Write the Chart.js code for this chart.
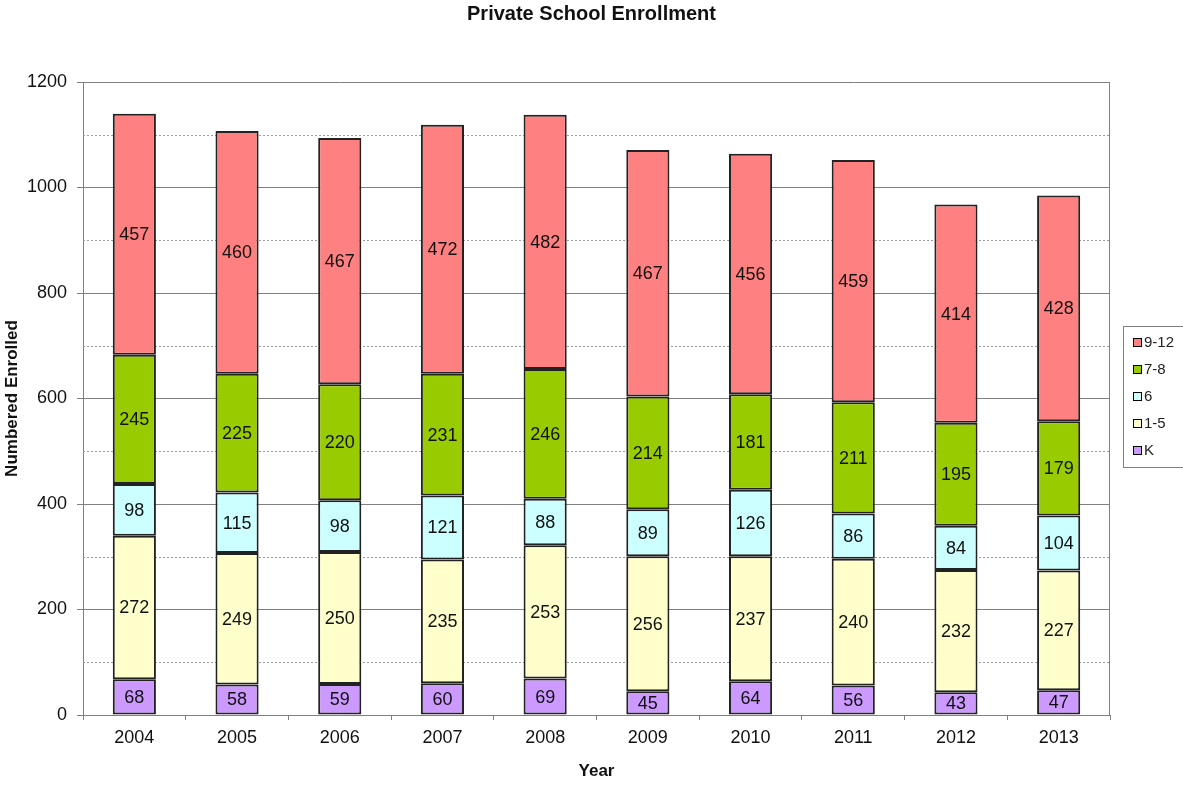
<!DOCTYPE html>
<html lang="en">
<head>
  <meta charset="UTF-8">
  <title>Private School Enrollment</title>
  <script src="https://cdn.jsdelivr.net/npm/chart.js"></script>
  <style>
    body { margin: 0; background: #fff; }
    .wrap { width: 1183px; height: 786px; position: relative; }
  </style>
</head>
<body>
  <div class="wrap"><canvas id="enrollChart"></canvas></div>

  <script>
    const years = ['2004', '2005', '2006', '2007', '2008', '2009', '2010', '2011', '2012', '2013'];
    const gradeK = [68, 58, 59, 60, 69, 45, 64, 56, 43, 47];
    const grade1to5 = [272, 249, 250, 235, 253, 256, 237, 240, 232, 227];
    const grade6 = [98, 115, 98, 121, 88, 89, 126, 86, 84, 104];
    const grade7to8 = [245, 225, 220, 231, 246, 214, 181, 211, 195, 179];
    const grade9to12 = [457, 460, 467, 472, 482, 467, 456, 459, 414, 428];
    const dashedLevels = [100, 300, 500, 700, 900, 1100];

    const FONT = "'Liberation Sans', Arial, sans-serif";

    // dotted grid lines at the odd hundreds + right frame of the plot
    const minorGrid = {
      id: 'minorGrid',
      beforeDatasetsDraw(chart) {
        const { ctx, chartArea } = chart;
        const y = chart.scales.y;
        ctx.save();
        ctx.strokeStyle = '#9a9a9a';
        ctx.lineWidth = 1;
        ctx.setLineDash([2, 2]);
        dashedLevels.forEach(v => {
          const py = Math.round(y.getPixelForValue(v)) + 0.5;
          ctx.beginPath();
          ctx.moveTo(chartArea.left, py);
          ctx.lineTo(chartArea.right, py);
          ctx.stroke();
        });
        ctx.setLineDash([]);
        ctx.strokeStyle = '#808080';
        ctx.beginPath();
        ctx.moveTo(Math.round(chartArea.right) - 0.5, chartArea.top);
        ctx.lineTo(Math.round(chartArea.right) - 0.5, chartArea.bottom);
        ctx.stroke();
        ctx.restore();
      }
    };

    // numbers in the middle of each segment
    const segmentLabels = {
      id: 'segmentLabels',
      afterDatasetsDraw(chart) {
        const { ctx } = chart;
        ctx.save();
        ctx.font = '18px ' + FONT;
        ctx.fillStyle = '#111';
        ctx.textAlign = 'center';
        ctx.textBaseline = 'middle';
        chart.data.datasets.forEach((ds, i) => {
          chart.getDatasetMeta(i).data.forEach((bar, j) => {
            ctx.fillText(ds.data[j], bar.x, (bar.y + bar.base) / 2 + 1);
          });
        });
        ctx.restore();
      }
    };

    // boxed legend on the right, top item = top of stack
    const boxLegend = {
      id: 'boxLegend',
      afterDraw(chart) {
        const { ctx } = chart;
        const items = chart.data.datasets.slice().reverse();
        ctx.save();
        ctx.strokeStyle = '#808080';
        ctx.lineWidth = 1;
        ctx.strokeRect(1123.5, 326.5, 70, 141);
        ctx.font = '15px ' + FONT;
        ctx.textBaseline = 'middle';
        items.forEach((ds, i) => {
          const cy = 342 + i * 27;
          ctx.fillStyle = ds.backgroundColor;
          ctx.fillRect(1133, cy - 4, 8, 8);
          ctx.strokeStyle = '#000';
          ctx.strokeRect(1133.5, cy - 3.5, 8, 8);
          ctx.fillStyle = '#222';
          ctx.fillText(ds.label, 1144, cy + 1);
        });
        ctx.restore();
      }
    };

    function bar(label, data, color) {
      return {
        label, data,
        backgroundColor: color,
        borderColor: '#222',
        borderWidth: 2,
        borderSkipped: false,
        categoryPercentage: 1,
        barPercentage: 0.42
      };
    }

    new Chart(document.getElementById('enrollChart'), {
      type: 'bar',
      data: {
        labels: years,
        datasets: [
          bar('K', gradeK, '#cc99ff'),
          bar('1-5', grade1to5, '#ffffcc'),
          bar('6', grade6, '#ccffff'),
          bar('7-8', grade7to8, '#99cc00'),
          bar('9-12', grade9to12, '#ff8080')
        ]
      },
      options: {
        responsive: true,
        maintainAspectRatio: false,
        animation: false,
        layout: { padding: 0 },
        plugins: {
          legend: { display: false },
          tooltip: { enabled: false },
          title: {
            display: true,
            text: 'Private School Enrollment',
            color: '#111',
            font: { family: FONT, size: 20, weight: 'bold' },
            padding: { top: 2, bottom: 56 }
          }
        },
        scales: {
          x: {
            stacked: true,
            offset: true,
            grid: { display: true, drawOnChartArea: false, drawTicks: true, tickLength: 5, color: '#808080', offset: true },
            border: { color: '#808080' },
            ticks: { color: '#111', padding: 7, font: { family: FONT, size: 18 } },
            title: { display: true, text: 'Year', color: '#111', font: { family: FONT, size: 17, weight: 'bold' }, padding: { top: 0, bottom: 4 } },
            afterFit(scale) { scale.height = 71; }
          },
          y: {
            stacked: true,
            min: 0,
            max: 1200,
            ticks: { stepSize: 200, color: '#111', padding: 10, font: { family: FONT, size: 18 }, callback: v => String(v) },
            grid: { color: '#808080', tickLength: 6 },
            border: { color: '#808080' },
            title: { display: true, text: 'Numbered Enrolled', color: '#111', font: { family: FONT, size: 17, weight: 'bold' }, padding: { top: 2, bottom: 0 } },
            afterFit(scale) { scale.width = 83; }
          },
          yRight: {
            position: 'right',
            display: true,
            grid: { display: false },
            ticks: { display: false },
            border: { display: false },
            afterFit(scale) { scale.width = 73; }
          }
        }
      },
      plugins: [minorGrid, segmentLabels, boxLegend]
    });
  </script>
</body>
</html>
